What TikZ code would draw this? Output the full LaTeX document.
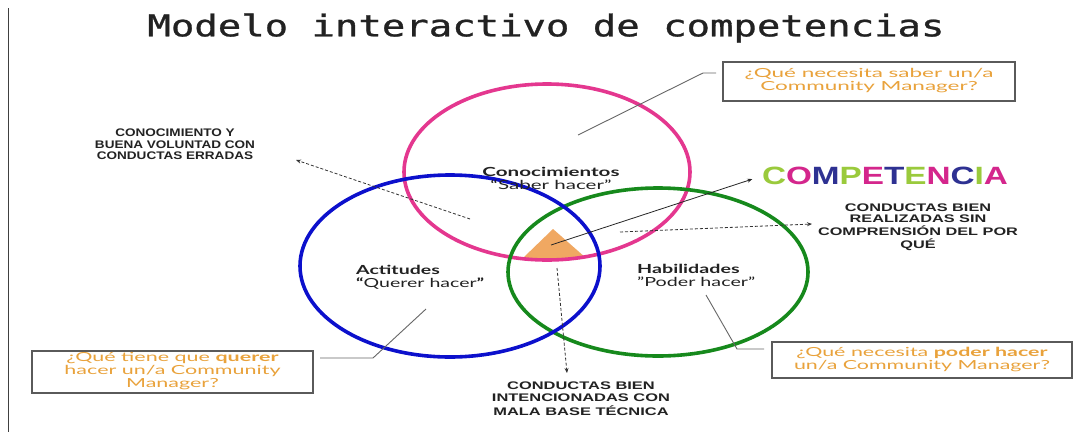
\documentclass[tikz,border=0pt]{standalone}
\usepackage{fontspec}
\setmainfont{Liberation Sans}
\newfontfamily\monof[FakeBold=0.8]{DejaVu Sans Mono}
\newfontfamily\latof{Lato}
\usetikzlibrary{arrows.meta}
\definecolor{pinkc}{HTML}{E4378F}
\definecolor{bluec}{HTML}{0C10CC}
\definecolor{greenc}{HTML}{16891C}
\definecolor{trif}{HTML}{F0A862}
\definecolor{boxtxt}{HTML}{E9A23B}
\definecolor{boxline}{HTML}{5A5A5A}
\definecolor{cg}{HTML}{9ACA3C}
\definecolor{cm}{HTML}{D4268C}
\definecolor{cn}{HTML}{2E3192}
\definecolor{txtc}{HTML}{222222}
\newcommand\fitx[2]{\resizebox{#1}{\height}{#2}}
\newcommand\capsblock[1]{\bfseries\begin{tabular}{@{}c@{}}#1\end{tabular}}
\tikzset{
  ring/.style={line width=3.6pt},
  qbox/.style={draw=boxline, line width=1.2pt, inner sep=0pt, text=boxtxt, font=\latof\fontsize{12.5}{13}\selectfont},
  lbl/.style={inner sep=0pt, text=txtc},
  conn/.style={draw=black!60, line width=0.9pt},
  dasharrow/.style={draw=black!80, line width=0.8pt, dash pattern=on 3pt off 2pt, -{Stealth[length=5pt,width=4pt]}},
  solidarrow/.style={draw=black!85, line width=0.8pt, -{Stealth[length=5pt,width=4pt]}}
}
\begin{document}
\begin{tikzpicture}[x=1pt,y=-1pt]
\useasboundingbox (0,0) rectangle (1073,437);
\fill[white] (0,0) rectangle (1073,437);
% left rule
\coordinate (ruleT) at (8,8);
\coordinate (ruleB) at (8,432);
\draw[black!75, line width=1pt] (ruleT) -- (ruleB);
% title
\node[lbl] (title) at (546,28) {\fitx{797pt}{\monof\fontsize{30}{32}\selectfont Modelo interactivo de competencias}};
% triangle
\coordinate (triA) at (553,229);
\coordinate (triB) at (523,258);
\coordinate (triC) at (586,258);
\fill[trif] (triA) -- (triB) -- (triC) -- cycle;
\coordinate (triM) at (551,245);
% circles
\draw[pinkc, ring] (547,172) ellipse [x radius=143pt, y radius=88pt];
\draw[greenc, ring] (658,272) ellipse [x radius=150pt, y radius=84pt];
\draw[bluec, ring] (450,266) ellipse [x radius=150pt, y radius=91pt];
% circle labels
\node[lbl] (cono) at (551,180) {\fitx{137pt}{\latof\fontsize{12.5}{12.5}\selectfont\begin{tabular}{@{}c@{}}\bfseries Conocimientos\\“Saber hacer”\end{tabular}}};
\node[lbl, anchor=west] (acti) at (356,278) {\fitx{128pt}{\latof\fontsize{12.5}{12.5}\selectfont\begin{tabular}{@{}l@{}}\bfseries Actitudes\\\textbf{“}Querer hacer\textbf{”}\end{tabular}}};
\node[lbl, anchor=west] (habi) at (637,277) {\fitx{118pt}{\latof\fontsize{12.5}{12.5}\selectfont\begin{tabular}{@{}l@{}}\bfseries Habilidades\\”Poder hacer”\end{tabular}}};
% COMPETENCIA
\node[lbl] (comp) at (885,176) {\fitx{246pt}{\bfseries\fontsize{25}{25}\selectfont\textcolor{cg}{C}\textcolor{cm}{O}\textcolor{cn}{M}\textcolor{cg}{P}\textcolor{cm}{E}\textcolor{cn}{T}\textcolor{cg}{E}\textcolor{cm}{N}\textcolor{cn}{C}\textcolor{cg}{I}\textcolor{cm}{A}}};
% caps notes
\node[lbl] (errs) at (175,146) {\fitx{160pt}{\fontsize{11}{11.5}\selectfont\capsblock{CONOCIMIENTO Y\\BUENA VOLUNTAD CON\\CONDUCTAS ERRADAS}}};
\node[lbl] (sinpq) at (918,228) {\fitx{200pt}{\fontsize{11}{10.5}\selectfont\capsblock{CONDUCTAS BIEN\\REALIZADAS SIN\\COMPRENSIÓN DEL POR\\QUÉ}}};
\node[lbl] (malab) at (581,400) {\fitx{178pt}{\fontsize{11}{12}\selectfont\capsblock{CONDUCTAS BIEN\\INTENCIONADAS CON\\MALA BASE TÉCNICA}}};
% question boxes
\node[qbox, minimum width=292pt, minimum height=39pt] (qsaber) at (869,81.5) {\fitx{249pt}{\begin{tabular}{@{}c@{}}¿Qué necesita saber un/a\\Community Manager?\end{tabular}}};
\node[qbox, minimum width=281pt, minimum height=42pt] (qquerer) at (172.5,372) {\fitx{216pt}{\begin{tabular}{@{}c@{}}¿Qué tiene que \textbf{querer}\\hacer un/a Community\\Manager?\end{tabular}}};
\node[qbox, minimum width=300pt, minimum height=36pt] (qpoder) at (922,360) {\fitx{256pt}{\begin{tabular}{@{}c@{}}¿Qué necesita \textbf{poder hacer}\\un/a Community Manager?\end{tabular}}};
% connectors to boxes
\coordinate (pinkP) at (578,135);
\coordinate (topEnd) at (716,73);
\draw[conn] (pinkP) -- (703,73) -- (topEnd);
\coordinate (blueP) at (426,309);
\coordinate (leftEnd) at (320,358);
\draw[conn] (blueP) -- (373,358) -- (leftEnd);
\coordinate (greenP) at (706,295);
\coordinate (rightEnd) at (764,349);
\draw[conn] (greenP) -- (737,349) -- (rightEnd);
% arrows
\draw[solidarrow, shorten >=10pt] (triM) -- (comp.west);
\coordinate (dA) at (470,219);
\coordinate (dAe) at (296,160);
\draw[dasharrow] (dA) -- (dAe);
\coordinate (dB) at (620,232);
\coordinate (dBe) at (812,224);
\draw[dasharrow] (dB) -- (dBe);
\coordinate (dC) at (557,268);
\coordinate (dCe) at (567,373);
\draw[dasharrow] (dC) -- (dCe);
\end{tikzpicture}
\end{document}
